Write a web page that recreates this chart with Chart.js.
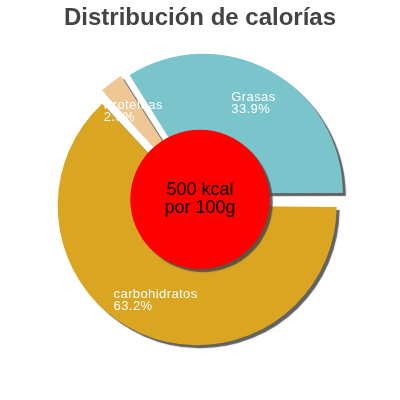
<!DOCTYPE html>
<html lang="es">
<head>
    <meta charset="UTF-8"/>
    <title>Distribución de calorías</title>
    <style>
        html, body {
            margin: 0;
            padding: 0;
            width: 100%;
            height: 100%;
            background: #fff;
            overflow: hidden;
        }

        #wrap {
            position: absolute;
            top: 0;
            left: 0;
            width: 400px;
            height: 400px;
        }
    </style>
    <script src="https://cdn.jsdelivr.net/npm/chart.js@4/dist/chart.umd.min.js"></script>
</head>
<body>
<div id="wrap"><canvas id="pie"></canvas></div>

<script>
    // Data (order follows the pie clockwise from 3 o'clock)
    const labels = ['carbohidratos', 'Proteínas', 'Grasas'];
    const values = [63.2, 2.9, 33.9];
    const colors = ['#daa520', '#efc794', '#7ac4cc'];
    const centerLines = ['500 kcal', 'por 100g'];
    const TITLE = 'Distribución de calorías';

    const FONT = '"Liberation Sans", Arial, sans-serif';
    const PIE_R = 139.5;     // outer radius
    const SHIFT = 7;         // px each slice is pushed out
    const HOLE = 0.5;        // red disc radius / PIE_R
    const LABEL_AT = 0.74;   // label centre / PIE_R

    function shadowOn(ctx) {
        ctx.shadowColor = 'rgba(70,70,70,0.85)';
        ctx.shadowOffsetX = 3;
        ctx.shadowOffsetY = 3;
        ctx.shadowBlur = 1;
    }

    // Chart.js grows an offset arc's radius too; undo that and add a shadow
    const explode = {
        id: 'explode',
        beforeDatasetDraw(chart, args) {
            args.meta.data.forEach(arc => {
                const fix = 1 - Math.sin(Math.min(Math.PI, arc.circumference));
                arc.outerRadius = PIE_R - SHIFT * fix;
            });
            chart.ctx.save();
            shadowOn(chart.ctx);
        },
        afterDatasetDraw(chart) {
            chart.ctx.restore();
        }
    };

    const decorations = {
        id: 'decorations',
        afterDatasetsDraw(chart) {
            const ctx = chart.ctx;
            const arcs = chart.getDatasetMeta(0).data;
            const cx = arcs[0].x, cy = arcs[0].y;

            // slice labels
            ctx.save();
            ctx.font = '13px ' + FONT;
            ctx.letterSpacing = '0.4px';
            ctx.fillStyle = '#fff';
            ctx.textAlign = 'left';
            ctx.textBaseline = 'middle';
            arcs.forEach((arc, i) => {
                const mid = (arc.startAngle + arc.endAngle) / 2;
                const r = SHIFT + LABEL_AT * PIE_R;
                const lx = cx + Math.cos(mid) * r;
                const ly = cy + Math.sin(mid) * r;
                const lines = [labels[i], values[i].toFixed(1) + '%'];
                const w = Math.max(...lines.map(t => ctx.measureText(t).width));
                ctx.fillText(lines[0], lx - w / 2, ly - 6);
                ctx.fillText(lines[1], lx - w / 2, ly + 6);
            });
            ctx.restore();

            // red centre disc
            ctx.save();
            shadowOn(ctx);
            ctx.beginPath();
            ctx.arc(cx, cy, PIE_R * HOLE, 0, Math.PI * 2);
            ctx.fillStyle = '#ff0000';
            ctx.fill();
            ctx.restore();

            ctx.save();
            ctx.font = '18px ' + FONT;
            ctx.fillStyle = '#000';
            ctx.textAlign = 'center';
            ctx.textBaseline = 'middle';
            ctx.fillText(centerLines[0], cx, cy - 9);
            ctx.fillText(centerLines[1], cx, cy + 9);
            ctx.restore();
        }
    };

    const ctx = document.getElementById('pie').getContext('2d');
    new Chart(ctx, {
        type: 'pie',
        data: {
            labels: labels,
            datasets: [{
                data: values,
                backgroundColor: colors,
                borderWidth: 0,
                offset: SHIFT * 4
            }]
        },
        options: {
            animation: false,
            responsive: true,
            maintainAspectRatio: false,
            rotation: 90,
            radius: PIE_R,
            layout: {padding: {bottom: 34}},
            plugins: {
                legend: {display: false},
                tooltip: {enabled: false},
                title: {
                    display: true,
                    text: TITLE,
                    color: '#444',
                    font: {family: FONT, size: 24, weight: 'bold'},
                    padding: {top: 4, bottom: 0}
                }
            }
        },
        plugins: [explode, decorations]
    });
</script>
</body>
</html>
